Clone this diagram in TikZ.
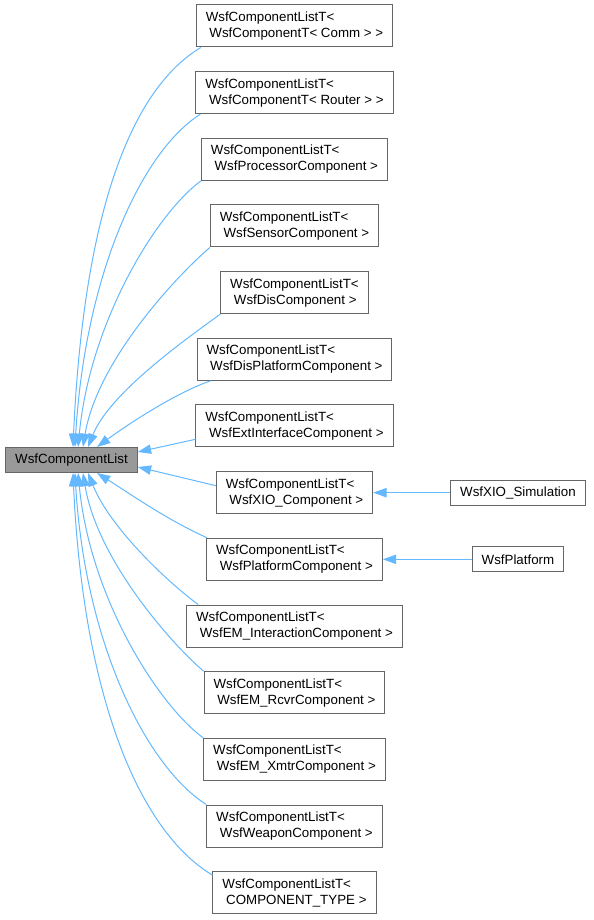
\documentclass[tikz,border=0pt]{standalone}
\usepackage{fontspec}
\setmainfont{Liberation Sans}
\usetikzlibrary{positioning,arrows.meta}
\definecolor{edgeblue}{HTML}{63B8FF}
\definecolor{boxline}{HTML}{666666}
\definecolor{basefill}{HTML}{999999}
\newcommand{\tsp}{\hspace*{.278em}}

\begin{document}
\begin{tikzpicture}[x=0.75pt, y=0.75pt,
  cls/.style={draw=boxline, line width=0.75pt, fill=white, inner xsep=7.1pt, inner ysep=4pt, minimum height=18.75pt},
  tpl/.style={cls, align=left, minimum height=31.5pt},
  inh/.style={edgeblue, line width=0.75pt, -{Triangle[length=10pt,width=7pt]}}]

\useasboundingbox (-71.5,-460) rectangle (521.5,460);

% ======================================
% THE BASE CLASS
% ======================================
\node[cls, fill=basefill] (wcl) at (0,0) {WsfComponentList};

% ======================================
% COLUMN OF TEMPLATE INSTANCES
% ======================================

\node[tpl] (comm) at (223,434) {WsfComponentListT<\\\tsp WsfComponentT< Comm > >};
\node[tpl, below=17.75pt of comm] (rtr) {WsfComponentListT<\\\tsp WsfComponentT< Router > >};
\node[tpl, below=17.75pt of rtr] (proc) {WsfComponentListT<\\\tsp WsfProcessorComponent >};
\node[tpl, below=17.75pt of proc] (sens) {WsfComponentListT<\\\tsp WsfSensorComponent >};
\node[tpl, below=17.75pt of sens] (dis) {WsfComponentListT<\\\tsp WsfDisComponent >};
\node[tpl, below=17.75pt of dis] (dplat) {WsfComponentListT<\\\tsp WsfDisPlatformComponent >};
\node[tpl, below=17.75pt of dplat] (ext) {WsfComponentListT<\\\tsp WsfExtInterfaceComponent >};
\node[tpl, below=17.75pt of ext] (xio) {WsfComponentListT<\\\tsp WsfXIO\_Component >};
\node[tpl, below=17.75pt of xio] (plat) {WsfComponentListT<\\\tsp WsfPlatformComponent >};
\node[tpl, below=17.75pt of plat] (emi) {WsfComponentListT<\\\tsp WsfEM\_InteractionComponent >};
\node[tpl, below=17.75pt of emi] (rcvr) {WsfComponentListT<\\\tsp WsfEM\_RcvrComponent >};
\node[tpl, below=17.75pt of rcvr] (xmtr) {WsfComponentListT<\\\tsp WsfEM\_XmtrComponent >};
\node[tpl, below=17.75pt of xmtr] (wpn) {WsfComponentListT<\\\tsp WsfWeaponComponent >};
\node[tpl, below=17.75pt of wpn] (ctype) {WsfComponentListT<\\\tsp COMPONENT\_TYPE >};

% ======================================
% DERIVED CLASSES
% ======================================

\node[cls, right=57.75pt of xio] (xsim) {WsfXIO\_Simulation};
\node[cls] (wplat) at (xsim |- plat) {WsfPlatform};
\draw [inh] (xsim) -- (xio);
\draw [inh] (wplat) -- (plat);

% ======================================
% EDGES INTO THE TOP OF THE BASE CLASS
% ======================================

\draw [inh] ([xshift=3.75pt]comm.south west) .. controls +(-75,-45) and +(10,220) .. ([xshift=1.1pt]wcl.north);
\draw [inh] ([xshift=3.75pt]rtr.south west) .. controls +(-60,-38) and +(10,170) .. ([xshift=2.6pt]wcl.north);
\draw [inh] (proc.south west) .. controls +(-45,-33) and +(12,125) .. ([xshift=4.9pt]wcl.north);
\draw [inh] (sens.south west) .. controls +(-35,-30) and +(14,85) .. ([xshift=8.6pt]wcl.north);
\draw [inh] (dis.south west) .. controls +(-30,-22) and +(22,55) .. ([xshift=12.4pt]wcl.north);
\draw [inh] ([xshift=10.5pt]dplat.south west) .. controls +(-35,-12) and +(30,22) .. ([xshift=19.1pt]wcl.north);

% ======================================
% EDGES INTO THE SIDE
% ======================================

\draw [inh] ([yshift=-10pt]ext.west) -- ([yshift=6pt]wcl.east);
\draw [inh] ([yshift=5.25pt]xio.west) -- ([yshift=-5.25pt]wcl.east);

% ======================================
% EDGES INTO THE BOTTOM
% ======================================

\draw [inh] ([xshift=0.75pt]plat.north west) .. controls +(-40,18) and +(35,-22) .. ([xshift=19.1pt]wcl.south);
\draw [inh] ([xshift=9pt]emi.north west) .. controls +(-30,22) and +(22,-55) .. ([xshift=12.4pt]wcl.south);
\draw [inh] (rcvr.north west) .. controls +(-35,30) and +(14,-85) .. ([xshift=8.6pt]wcl.south);
\draw [inh] (xmtr.north west) .. controls +(-45,33) and +(12,-125) .. ([xshift=4.9pt]wcl.south);
\draw [inh] (wpn.north west) .. controls +(-60,38) and +(10,-170) .. ([xshift=2.6pt]wcl.south);
\draw [inh] ([yshift=-3pt]ctype.north west) .. controls +(-75,45) and +(10,-220) .. ([xshift=1.1pt]wcl.south);

\end{tikzpicture}
\end{document}
